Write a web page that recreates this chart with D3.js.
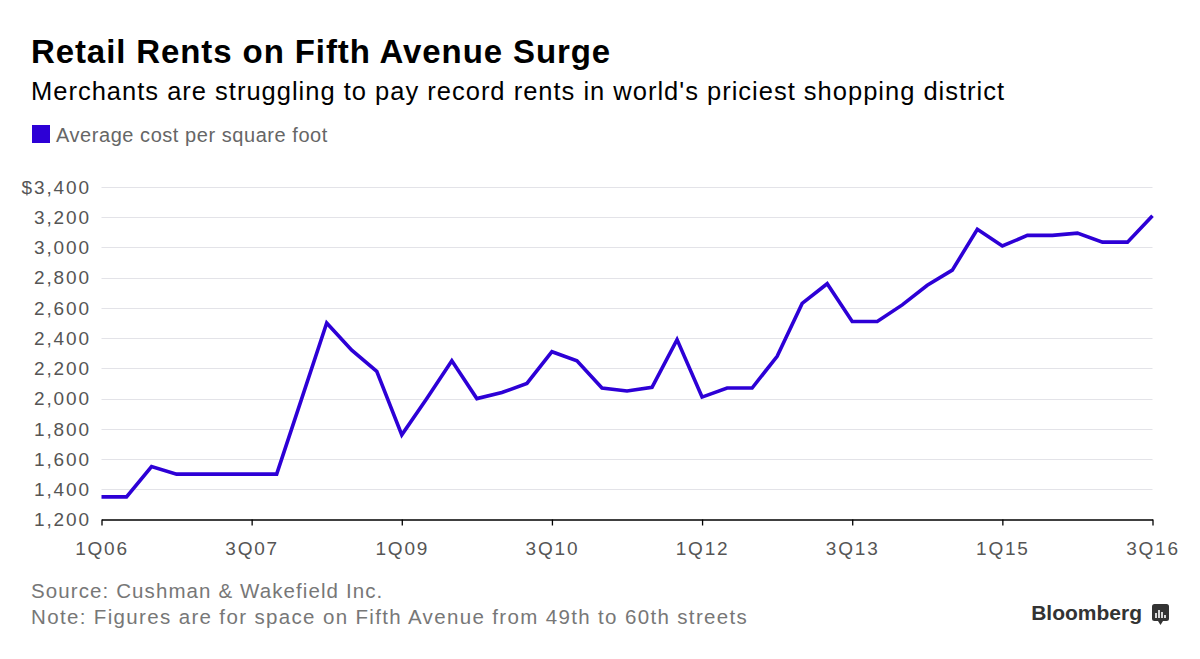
<!DOCTYPE html>
<html>
<head>
<meta charset="utf-8">
<script src="https://cdn.jsdelivr.net/npm/d3@7"></script>
<style>
  html, body { margin: 0; padding: 0; background: #fff; }
  svg { display: block; font-family: "Liberation Sans", Arial, Helvetica, sans-serif; }
</style>
</head>
<body>
<svg id="chart" width="1200" height="659"></svg>
<script>
// ---- data ----
const quarters = [
  "1Q06","2Q06","3Q06","4Q06","1Q07","2Q07","3Q07","4Q07",
  "1Q08","2Q08","3Q08","4Q08","1Q09","2Q09","3Q09","4Q09",
  "1Q10","2Q10","3Q10","4Q10","1Q11","2Q11","3Q11","4Q11",
  "1Q12","2Q12","3Q12","4Q12","1Q13","2Q13","3Q13","4Q13",
  "1Q14","2Q14","3Q14","4Q14","1Q15","2Q15","3Q15","4Q15",
  "1Q16","2Q16","3Q16"
];
const costPerSqFt = [
  1350, 1350, 1550, 1500, 1500, 1500, 1500, 1500,
  2000, 2500, 2320, 2180, 1760, 2000, 2250, 2000,
  2040, 2100, 2310, 2250, 2070, 2050, 2075, 2390,
  2010, 2070, 2070, 2280, 2630, 2760, 2510, 2510,
  2620, 2750, 2850, 3120, 3010, 3080, 3080, 3095,
  3035, 3035, 3210
];
const xTickLabels = ["1Q06","3Q07","1Q09","3Q10","1Q12","3Q13","1Q15","3Q16"];
const yTickValues = [1200,1400,1600,1800,2000,2200,2400,2600,2800,3000,3200,3400];
const seriesName = "Average cost per square foot";
const title = "Retail Rents on Fifth Avenue Surge";
const subtitle = "Merchants are struggling to pay record rents in world's priciest shopping district";
const sourceNote = "Source: Cushman & Wakefield Inc.";
const footNote = "Note: Figures are for space on Fifth Avenue from 49th to 60th streets";

// ---- layout ----
const svg = d3.select("#chart");
const lineColor = "#2d00d6";
const x = d3.scalePoint().domain(quarters).range([101.5, 1152.5]);
const y = d3.scaleLinear().domain([1200, 3400]).range([519.5, 187]);

// titles
svg.append("text").attr("x", 31).attr("y", 63)
  .attr("font-size", 33).attr("font-weight", "bold").attr("fill", "#000")
  .attr("letter-spacing", 0.9)
  .text(title);
svg.append("text").attr("x", 31).attr("y", 99.5)
  .attr("font-size", 25.5).attr("fill", "#000").attr("letter-spacing", 1.0)
  .text(subtitle);

// legend
svg.append("rect").attr("x", 32).attr("y", 125).attr("width", 18).attr("height", 18)
  .attr("fill", lineColor);
svg.append("text").attr("x", 56).attr("y", 142)
  .attr("font-size", 20).attr("fill", "#666").attr("letter-spacing", 0.55)
  .text(seriesName);

// gridlines
svg.append("g").selectAll("line").data(yTickValues.filter(d => d !== 1200)).join("line")
  .attr("x1", 101.5).attr("x2", 1152.5)
  .attr("y1", d => Math.round(y(d)) + 0.5).attr("y2", d => Math.round(y(d)) + 0.5)
  .attr("stroke", "#e3e3e8").attr("stroke-width", 1);

// y labels
const fmt = d3.format(",");
svg.append("g").selectAll("text").data(yTickValues).join("text")
  .attr("x", 91).attr("y", d => y(d) + 6.8)
  .attr("text-anchor", "end").attr("font-size", 19).attr("fill", "#555")
  .attr("letter-spacing", 1.9)
  .text(d => d === 3400 ? "$" + fmt(d) : fmt(d));

// x axis
const xAxis = d3.axisBottom(x).tickValues(xTickLabels).tickSize(6).tickSizeOuter(0);
const gx = svg.append("g").attr("transform", "translate(0,519.5)").call(xAxis);
gx.select(".domain").attr("stroke", "#000").attr("stroke-width", 1.3);
gx.selectAll(".tick line").attr("stroke", "#000").attr("stroke-width", 1.3);
gx.selectAll(".tick text")
  .attr("font-family", "Liberation Sans, Arial, sans-serif")
  .attr("font-size", 19).attr("fill", "#555").attr("letter-spacing", 1.8)
  .attr("y", 22);

// line
const line = d3.line().x((d, i) => x(quarters[i])).y(d => y(d));
svg.append("path").datum(costPerSqFt)
  .attr("d", line).attr("fill", "none")
  .attr("stroke", lineColor).attr("stroke-width", 3.6)
  .attr("stroke-linejoin", "miter").attr("stroke-linecap", "butt");

// footer
svg.append("text").attr("x", 31).attr("y", 598)
  .attr("font-size", 20.5).attr("fill", "#777").attr("letter-spacing", 1.1).text(sourceNote);
svg.append("text").attr("x", 31).attr("y", 624)
  .attr("font-size", 20.5).attr("fill", "#777").attr("letter-spacing", 1.35).text(footNote);

// Bloomberg logo
svg.append("text").attr("x", 1142).attr("y", 620)
  .attr("text-anchor", "end").attr("font-size", 21).attr("font-weight", "bold")
  .attr("fill", "#333").text("Bloomberg");
const logo = svg.append("g").attr("transform", "translate(1152,604)");
logo.append("rect").attr("width", 17).attr("height", 17).attr("rx", 2.5).attr("fill", "#333");
logo.append("path").attr("d", "M6,17 L8.5,21 L11,17 Z").attr("fill", "#333");
[[4, 9], [7, 6], [10, 8], [13, 11]].forEach(([bx, top]) => {
  logo.append("rect").attr("x", bx - 0.8).attr("y", top).attr("width", 1.6)
    .attr("height", 14 - top).attr("fill", "#fff");
});
</script>
</body>
</html>
